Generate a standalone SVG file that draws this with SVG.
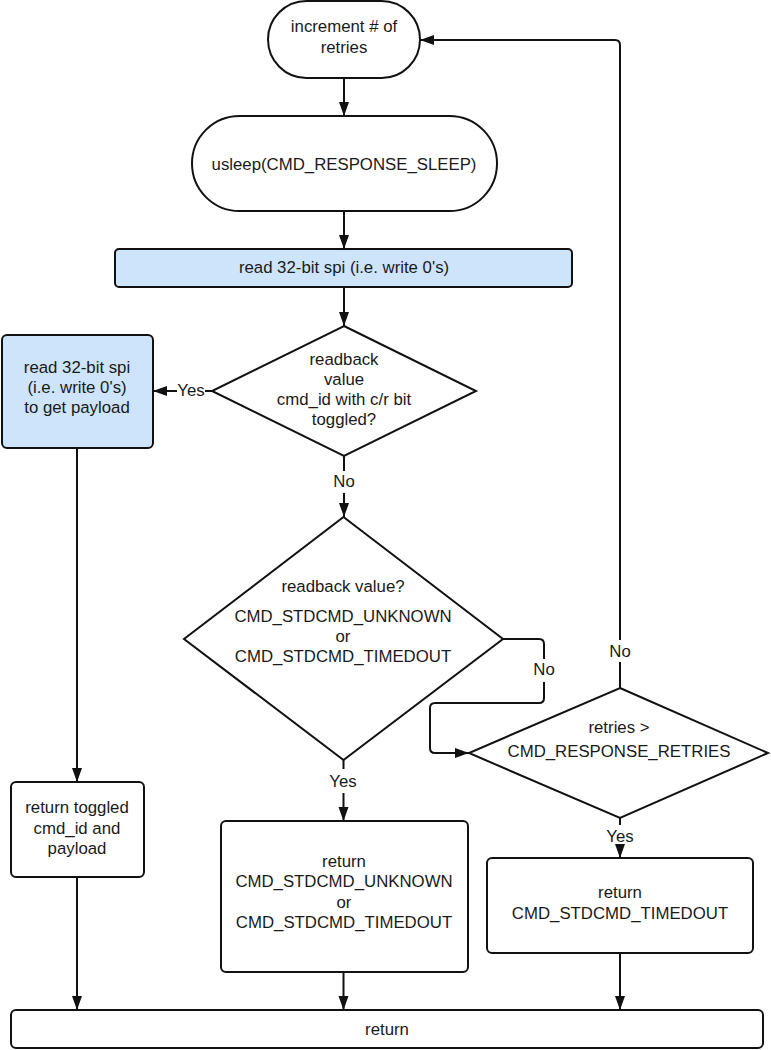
<svg xmlns="http://www.w3.org/2000/svg" width="771" height="1050" viewBox="0 0 771 1050">
<defs>
<style>
.n{fill:#fff;stroke:#111;stroke-width:2}
.b{fill:#cde4fa;stroke:#111;stroke-width:2}
.t{font-family:"Liberation Sans",Arial,sans-serif;font-size:16.8px;fill:#1a1a1a;text-anchor:middle}
.c{fill:none;stroke:#111;stroke-width:2}
</style>
<marker id="ah" markerUnits="userSpaceOnUse" markerWidth="15" markerHeight="11" refX="14" refY="5" orient="auto">
<path d="M0,0 L14,5 L0,10 z" fill="#111"/>
</marker>
</defs>
<rect width="771" height="1050" fill="#fff"/>

<g id="increment">
<rect class="n" x="268" y="1" width="152" height="77" rx="38.5"/>
<text class="t" x="344" y="32">increment # of</text>
<text class="t" x="344" y="53">retries</text>
</g>
<g id="usleep">
<rect class="n" x="192" y="116" width="305" height="95" rx="47.5"/>
<text class="t" x="344" y="170">usleep(CMD_RESPONSE_SLEEP)</text>
</g>
<g id="read1">
<rect class="b" x="115" y="249" width="457" height="38" rx="4"/>
<text class="t" x="344" y="273">read 32-bit spi (i.e. write 0's)</text>
</g>
<g id="dec1">
<polygon class="n" points="344,326 476,391 344,456 212,391"/>
<text class="t" x="344" y="365">readback</text>
<text class="t" x="344" y="385">value</text>
<text class="t" x="344" y="405">cmd_id with c/r bit</text>
<text class="t" x="344" y="425">toggled?</text>
</g>
<g id="read2">
<rect class="b" x="2" y="335" width="151" height="113" rx="5"/>
<text class="t" x="77" y="373">read 32-bit spi</text>
<text class="t" x="77" y="393">(i.e. write 0's)</text>
<text class="t" x="77" y="413">to get payload</text>
</g>
<g id="dec2">
<polygon class="n" points="343.5,517 503,639 343.5,760 184,639"/>
<text class="t" x="343" y="592">readback value?</text>
<text class="t" x="343" y="622">CMD_STDCMD_UNKNOWN</text>
<text class="t" x="343" y="642">or</text>
<text class="t" x="343" y="662">CMD_STDCMD_TIMEDOUT</text>
</g>
<g id="dec3">
<polygon class="n" points="620,688 768,753 620,818 469,753"/>
<text class="t" x="619" y="733">retries &gt;</text>
<text class="t" x="619" y="757">CMD_RESPONSE_RETRIES</text>
</g>
<g id="retToggled">
<rect class="n" x="11" y="782" width="133" height="95" rx="5"/>
<text class="t" x="77" y="813">return toggled</text>
<text class="t" x="77" y="834">cmd_id and</text>
<text class="t" x="77" y="854">payload</text>
</g>
<g id="retUnknown">
<rect class="n" x="221" y="821" width="247" height="151" rx="5"/>
<text class="t" x="344" y="867">return</text>
<text class="t" x="344" y="887">CMD_STDCMD_UNKNOWN</text>
<text class="t" x="344" y="908">or</text>
<text class="t" x="344" y="928">CMD_STDCMD_TIMEDOUT</text>
</g>
<g id="retTimedout">
<rect class="n" x="487" y="858" width="266" height="95" rx="5"/>
<text class="t" x="620" y="898">return</text>
<text class="t" x="620" y="919">CMD_STDCMD_TIMEDOUT</text>
</g>
<g id="return">
<rect class="n" x="11" y="1010" width="752" height="38" rx="5"/>
<text class="t" x="387" y="1035">return</text>
</g>

<g id="connectors">
<path class="c" d="M344,78 V116" marker-end="url(#ah)"/>
<path class="c" d="M344,211 V249" marker-end="url(#ah)"/>
<path class="c" d="M344,287 V326" marker-end="url(#ah)"/>
<path class="c" d="M212,391 H205"/>
<path class="c" d="M177,391 H153" marker-end="url(#ah)"/>
<text class="t" x="191" y="396">Yes</text>
<path class="c" d="M77,448 V782" marker-end="url(#ah)"/>
<path class="c" d="M77,877 V1010" marker-end="url(#ah)"/>
<path class="c" d="M344,456 V471"/>
<text class="t" x="344" y="487">No</text>
<path class="c" d="M344,493 V517" marker-end="url(#ah)"/>
<path class="c" d="M343.5,760 V769"/>
<text class="t" x="343" y="787">Yes</text>
<path class="c" d="M343.5,793 V821" marker-end="url(#ah)"/>
<path class="c" d="M343.5,972 V1010" marker-end="url(#ah)"/>
<path class="c" d="M503,639 H539 Q544,639 544,644 V659"/>
<text class="t" x="544" y="675">No</text>
<path class="c" d="M544,682 V698 Q544,703 539,703 H435 Q430,703 430,708 V748 Q430,753 435,753 H469" marker-end="url(#ah)"/>
<path class="c" d="M620,688 V662"/>
<text class="t" x="620" y="657">No</text>
<path class="c" d="M620,640 V45 Q620,40 615,40 H420" marker-end="url(#ah)"/>
<path class="c" d="M620,818 V825"/>
<text class="t" x="620" y="842">Yes</text>
<path class="c" d="M620,847 V858" marker-end="url(#ah)"/>
<path class="c" d="M620,953 V1010" marker-end="url(#ah)"/>
</g>
</svg>
